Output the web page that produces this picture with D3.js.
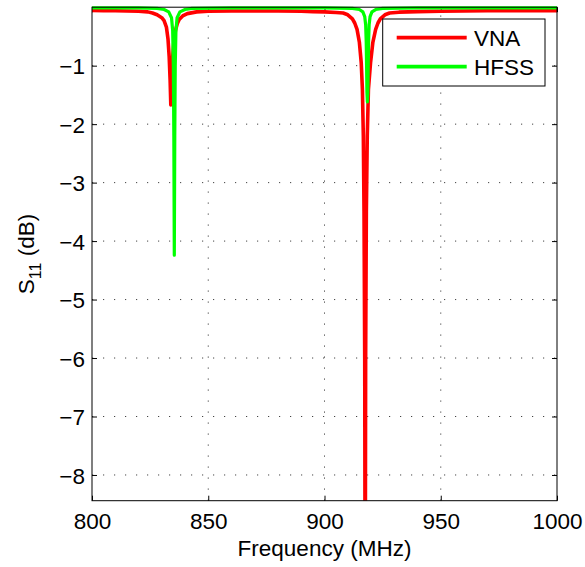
<!DOCTYPE html>
<html>
<head>
<meta charset="utf-8">
<script src="https://cdn.jsdelivr.net/npm/d3@7"></script>
<style>
  html, body { margin: 0; padding: 0; background: #fff; }
  svg { display: block; font-family: "Liberation Sans", Arial, Helvetica, sans-serif; }
</style>
</head>
<body>
<svg id="chart" width="585" height="567"></svg>
<script>
// Measured reflection coefficient (VNA) vs. simulated (HFSS), [MHz, dB]
const vnaS11 = [
  [800, -0.055], [805, -0.06], [810, -0.06], [815, -0.065], [820, -0.07],
  [824, -0.08], [826, -0.1], [828, -0.13], [830, -0.18], [831, -0.23],
  [832, -0.34], [832.7, -0.55], [833.2, -0.85], [833.6, -1.25], [833.9, -1.67],
  [834.2, -1.3], [834.6, -0.9], [835.2, -0.6], [835.9, -0.4], [836.7, -0.28],
  [837.5, -0.21], [839, -0.15], [841, -0.11], [845, -0.08], [850, -0.07],
  [860, -0.065], [870, -0.065], [880, -0.065], [890, -0.07], [895, -0.075],
  [900, -0.08], [905, -0.09], [908, -0.1], [910, -0.13], [912, -0.2],
  [913, -0.27], [914, -0.38], [915, -0.6], [915.8, -0.95], [916.3, -1.4],
  [916.7, -2.2], [917.0, -3.5], [917.3, -6], [917.5, -11], [917.7, -6],
  [918.0, -3.5], [918.4, -2.2], [918.9, -1.4], [919.8, -0.95], [920.8, -0.6],
  [922, -0.38], [923, -0.27], [924, -0.2], [926, -0.13], [928, -0.1],
  [932, -0.085], [940, -0.075], [950, -0.07], [960, -0.065], [970, -0.06],
  [980, -0.06], [990, -0.06], [1000, -0.06]
];

const hfssS11 = [
  [800, -0.01], [820, -0.01], [828, -0.02], [831, -0.04], [833, -0.08],
  [834.2, -0.18], [834.7, -0.4], [835.0, -1.0], [835.2, -2.2], [835.4, -4.24],
  [835.6, -2.2], [835.8, -1.0], [836.1, -0.4], [836.6, -0.18], [837.8, -0.08],
  [840, -0.04], [843, -0.02], [860, -0.01], [900, -0.01], [912, -0.02],
  [915, -0.04], [916.5, -0.08], [917.3, -0.16], [917.7, -0.3], [917.95, -0.6],
  [918.1, -1.0], [918.25, -1.45], [918.45, -1.62], [918.65, -1.45], [918.8, -1.0],
  [918.95, -0.6], [919.2, -0.3], [919.6, -0.16], [920.4, -0.08], [922, -0.04],
  [925, -0.02], [940, -0.01], [1000, -0.01]
];

const xTicks = [800, 850, 900, 950, 1000];
const yTicks = [-1, -2, -3, -4, -5, -6, -7, -8];
const seriesNames = ["VNA", "HFSS"];
const seriesColors = ["#ff0000", "#00ff00"];

const W = 585, H = 567;
const margin = { left: 92, right: 28, top: 7.2, bottom: 66.3 };
const x0 = margin.left, x1 = W - margin.right;
const y0 = margin.top, y1 = H - margin.bottom;

const x = d3.scaleLinear().domain([800, 1000]).range([x0, x1]);
const y = d3.scaleLinear().domain([-8.44, 0]).range([y1, y0]);

const svg = d3.select("#chart");
const fs = 22.5;

// dotted grid
const grid = svg.append("g").attr("stroke", "#444").attr("stroke-width", 1)
  .attr("stroke-dasharray", "1.2,9.8");
grid.selectAll("line.gx").data(xTicks.filter(d => d > 800 && d < 1000)).enter()
  .append("line")
  .attr("x1", d => x(d)).attr("x2", d => x(d))
  .attr("y1", y1).attr("y2", y0);
grid.selectAll("line.gy").data(yTicks).enter()
  .append("line")
  .attr("x1", x0).attr("x2", x1)
  .attr("y1", d => y(d)).attr("y2", d => y(d));

// axes with inward ticks on all four sides
const tickLen = 5;
const axB = svg.append("g").attr("transform", `translate(0,${y1})`)
  .call(d3.axisBottom(x).tickValues(xTicks).tickSizeInner(-tickLen).tickSizeOuter(0)
    .tickPadding(12).tickFormat(d3.format("d")));
const axT = svg.append("g").attr("transform", `translate(0,${y0})`)
  .call(d3.axisTop(x).tickValues(xTicks).tickSizeInner(-tickLen).tickSizeOuter(0).tickFormat(""));
const axL = svg.append("g").attr("transform", `translate(${x0},0)`)
  .call(d3.axisLeft(y).tickValues(yTicks).tickSizeInner(-tickLen).tickSizeOuter(0).tickPadding(7)
    .tickFormat(d => String(d).replace("-", "\u2212")));
const axR = svg.append("g").attr("transform", `translate(${x1},0)`)
  .call(d3.axisRight(y).tickValues(yTicks).tickSizeInner(-tickLen).tickSizeOuter(0).tickFormat(""));

[axB, axT, axL, axR].forEach(g => {
  g.select(".domain").remove();
  g.selectAll("line").attr("stroke", "#000");
  g.selectAll("text").attr("fill", "#000").attr("font-size", fs)
    .attr("font-family", "Liberation Sans, Arial, sans-serif");
});
axB.selectAll("text").attr("dy", "0.71em");
axL.selectAll("text").attr("dy", "0.36em");

// data lines, clipped to the plot area (top left open)
svg.append("clipPath").attr("id", "plotClip").append("rect")
  .attr("x", x0 - 2).attr("y", 0).attr("width", x1 - x0 + 4).attr("height", y1);

const line = d3.line().x(d => x(d[0])).y(d => y(d[1]));
const plot = svg.append("g").attr("clip-path", "url(#plotClip)")
  .attr("fill", "none").attr("stroke-linejoin", "round");
plot.append("path").datum(vnaS11).attr("d", line)
  .attr("stroke", seriesColors[0]).attr("stroke-width", 3.6);
plot.append("path").datum(hfssS11).attr("d", line)
  .attr("stroke", seriesColors[1]).attr("stroke-width", 3.2);

// frame
svg.append("rect").attr("x", x0).attr("y", y0)
  .attr("width", x1 - x0).attr("height", y1 - y0)
  .attr("fill", "none").attr("stroke", "#000").attr("stroke-width", 1);

// axis titles
svg.append("text").attr("x", (x0 + x1) / 2).attr("y", 556)
  .attr("text-anchor", "middle").attr("font-size", fs).attr("fill", "#000")
  .text("Frequency (MHz)");

const yl = svg.append("text").attr("transform", "translate(34,254) rotate(-90)")
  .attr("text-anchor", "middle").attr("font-size", fs).attr("fill", "#000");
yl.append("tspan").text("S");
yl.append("tspan").attr("font-size", 16).attr("dy", 7).text("11");
yl.append("tspan").attr("dy", -7).text(" (dB)");

// legend
const lg = svg.append("g");
lg.append("rect").attr("x", 382.7).attr("y", 19).attr("width", 162.3).attr("height", 67)
  .attr("fill", "#fff").attr("stroke", "#000").attr("stroke-width", 1);
seriesNames.forEach((name, i) => {
  const ly = 37.7 + i * 29;
  lg.append("line").attr("x1", 396.7).attr("x2", 466.7).attr("y1", ly).attr("y2", ly)
    .attr("stroke", seriesColors[i]).attr("stroke-width", 3.8);
  lg.append("text").attr("x", 474).attr("y", ly + 8.2)
    .attr("font-size", fs).attr("fill", "#000").text(name);
});
</script>
</body>
</html>
